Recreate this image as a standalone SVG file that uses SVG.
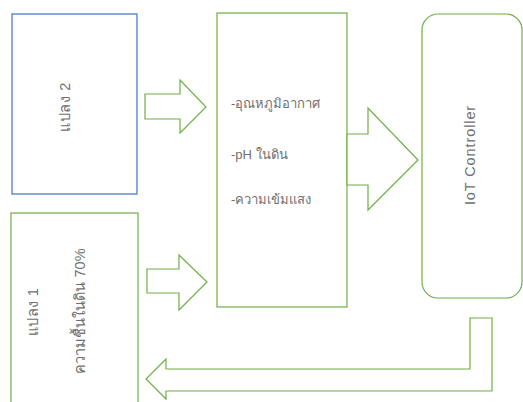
<svg xmlns="http://www.w3.org/2000/svg" width="523" height="402" viewBox="0 0 523 402">
<style>
.g{fill:#fff;stroke:#70AD47;stroke-width:1.2}
.b{fill:#fff;stroke:#4472C4;stroke-width:1.2}
.t{font-family:"Liberation Sans","Noto Sans",sans-serif;font-size:13px;fill:#707070}
.r{text-anchor:middle;dominant-baseline:central;font-size:14.5px}
</style>
<rect width="523" height="402" fill="#fff"/>
<g id="plot2">
<rect class="b" x="12" y="14" width="125" height="180"/>
<text class="t r" transform="translate(65,107) rotate(-90)" letter-spacing="0.6">แปลง 2</text>
</g>
<g id="plot1">
<rect class="g" x="11" y="213" width="127" height="200"/>
<text class="t r" transform="translate(33,312) rotate(-90)" letter-spacing="0.4">แปลง 1</text>
<text class="t r" transform="translate(80,311) rotate(-90)">ความชื้นในดิน 70%</text>
</g>
<g id="sensors">
<rect class="g" x="217" y="13" width="130" height="294"/>
<text class="t" x="231" y="108">-อุณหภูมิอากาศ</text>
<text class="t" x="231" y="159">-pH ในดิน</text>
<text class="t" x="231" y="204">-ความเข้มแสง</text>
</g>
<g id="controller">
<rect class="g" x="422" y="14" width="100" height="284" rx="16"/>
<text class="t r" transform="translate(470,155) rotate(-90)" letter-spacing="0.9">IoT Controller</text>
</g>
<g id="connectors">
<polygon class="g" points="145,94 180,94 180,80 206,107 180,133 180,119 145,119"/>
<polygon class="g" points="147,269 179,269 179,255 207,282 179,310 179,293 147,293"/>
<polygon class="g" points="347,134 368,134 368,108 418,160 368,210 368,185 347,185"/>
<polygon class="g" points="470,318 492,318 492,391 166,391 166,399 146,379 166,359 166,369 470,369"/>
</g>
</svg>
